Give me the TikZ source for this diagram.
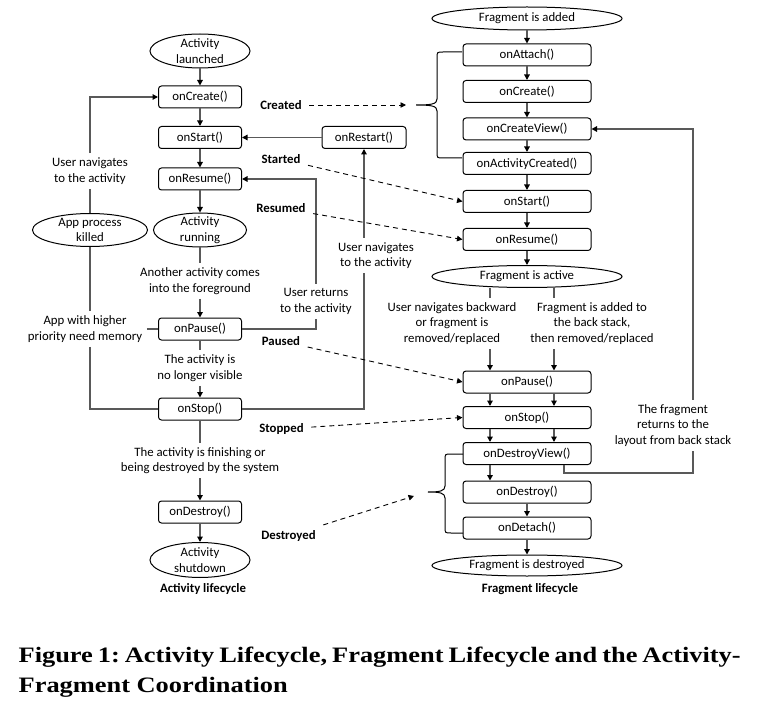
\documentclass[tikz,border=0pt]{standalone}
\usepackage{fontspec}
\setmainfont{Carlito}
\newfontfamily\capfont[FakeStretch=1.2]{Liberation Serif}
\usetikzlibrary{shapes.geometric,arrows.meta}

\begin{document}
\begin{tikzpicture}[x=1pt,y=-1pt,line width=1.3pt,draw=black!65,
  >={Triangle[length=5.5pt,width=5.5pt,color=black]},
  every node/.style={font=\fontsize{12.8}{15.6}\selectfont},
  cbox/.style={draw=black,line width=1pt,rectangle,rounded corners=3pt,minimum width=83pt,minimum height=22pt,inner sep=0pt},
  fbox/.style={cbox,minimum width=128pt},
  coval/.style={draw=black,line width=1pt,ellipse,inner sep=0pt},
  ctext/.style={align=center,inner sep=4pt},
  cstate/.style={font=\fontsize{12.8}{15.6}\selectfont\bfseries,inner sep=7pt},
  dsh/.style={draw=black,line width=0.9pt,dash pattern=on 5pt off 4pt,->}]
 \useasboundingbox (0,0) rectangle (766,714);

 % activity lifecycle
 \node[coval,minimum width=100pt,minimum height=34pt,label={[align=center]center:Activity\\launched}] (AL) at (200,51) {};
 \node[cbox] (AC) at (200,97) {onCreate()};
 \node[cbox] (AS) at (200,137.5) {onStart()};
 \node[cbox] (AR) at (200,179) {onResume()};
 \node[coval,minimum width=93pt,minimum height=34pt,label={[align=center]center:Activity\\running}] (ARun) at (200,230) {};
 \node[ctext] (T5) at (200,281) {Another activity comes\\into the foreground};
 \node[cbox] (AP) at (200,329) {onPause()};
 \node[ctext] (T6) at (200,368) {The activity is\\no longer visible};
 \node[cbox] (ASt) at (200,409) {onStop()};
 \node[ctext] (T7) at (200,460.5) {The activity is finishing or\\being destroyed by the system};
 \node[cbox] (AD) at (200,512) {onDestroy()};
 \node[coval,minimum width=100pt,minimum height=35pt,label={[align=center]center:Activity\\shutdown}] (ASh) at (200,560) {};
 \node[cstate,inner sep=2pt] (ALc) at (203,589) {Activity lifecycle};

 \node[cbox,minimum width=84pt] (ARs) at (364,137.5) {onRestart()};
 \node[coval,minimum width=115pt,minimum height=33pt,label={[align=center]center:App process\\killed}] (APK) at (90,230) {};
 \node[ctext] (T1) at (90,171) {User navigates\\to the activity};
 \node[ctext] (T2) at (85,329) {App with higher\\priority need memory};
 \node[ctext] (T3) at (376,255.5) {User navigates\\to the activity};
 \node[ctext] (T4) at (316,301.5) {User returns\\to the activity};

 \draw[->] (AL) -- (AC);
 \draw[->] (AC) -- (AS);
 \draw[->] (AS) -- (AR);
 \draw[->] (AR) -- (ARun);
 \draw (ARun) -- (T5);
 \draw[->] (T5) -- (AP);
 \draw (AP) -- (T6);
 \draw[->] (T6) -- (ASt);
 \draw (ASt) -- (T7);
 \draw[->] (T7) -- (AD);
 \draw[->] (AD) -- (ASh);

 \draw (APK) -- (T1);
 \draw[->] (T1) |- (AC);
 \draw (APK) -- (APK |- T2.north);
 \draw (T2) -- (AP);
 \draw (APK |- T2.south) |- (ASt);

 \draw[->] (ARs) -- (AS);
 \draw[->] (ARs |- T3.north) -- (ARs);
 \draw (ASt) -| (ARs |- T3.south);
 \draw[->] (T4) |- (AR);
 \draw (AP) -| (T4);

 % fragment lifecycle
 \node[coval,minimum width=190pt,minimum height=23pt] (FAd) at (527,18.5) {Fragment is added};
 \node[fbox] (FAt) at (527,55) {onAttach()};
 \node[fbox] (FC) at (527,91.5) {onCreate()};
 \node[fbox] (FCV) at (527,129) {onCreateView()};
 \node[fbox] (FAC) at (527,163.5) {onActivityCreated()};
 \node[fbox] (FS) at (527,201.5) {onStart()};
 \node[fbox] (FR) at (527,239.5) {onResume()};
 \node[coval,minimum width=190pt,minimum height=22pt] (FAct) at (527,276.5) {Fragment is active};
 \node[ctext] (T8) at (452,323.5) {User navigates backward\\or fragment is\\removed/replaced};
 \node[ctext] (T9) at (592,323.5) {Fragment is added to\\the back stack,\\then removed/replaced};
 \node[fbox] (FP) at (527,382) {onPause()};
 \node[fbox] (FSo) at (527,417.5) {onStop()};
 \node[fbox] (FDV) at (527,453.5) {onDestroyView()};
 \node[fbox] (FD) at (527,492) {onDestroy()};
 \node[fbox] (FDt) at (527,528) {onDetach()};
 \node[coval,minimum width=190pt,minimum height=21pt] (FDs) at (527,565.5) {Fragment is destroyed};
 \node[cstate,inner sep=2pt] (FLc) at (530,589) {Fragment lifecycle};
 \node[ctext] (T10) at (673,425.5) {The fragment\\returns to the\\layout from back stack};

 \coordinate (P1) at (490,0);
 \coordinate (P2) at (554,0);
 \coordinate (P3) at (564,473);
 \coordinate (P4) at (693,0);

 \draw[->] (FAd) -- (FAt);
 \draw[->] (FAt) -- (FC);
 \draw[->] (FC) -- (FCV);
 \draw[->] (FCV) -- (FAC);
 \draw[->] (FAC) -- (FS);
 \draw[->] (FS) -- (FR);
 \draw[->] (FR) -- (FAct);
 \draw (P1 |- FAct.south) -- (P1 |- T8.north);
 \draw (P2 |- FAct.south) -- (P2 |- T9.north);
 \draw[->] (P1 |- T8.south) -- (P1 |- FP.north);
 \draw[->] (P2 |- T9.south) -- (P2 |- FP.north);
 \draw[->] (P1 |- FP.south) -- (P1 |- FSo.north);
 \draw[->] (P2 |- FP.south) -- (P2 |- FSo.north);
 \draw[->] (P1 |- FSo.south) -- (P1 |- FDV.north);
 \draw[->] (P2 |- FSo.south) -- (P2 |- FDV.north);
 \draw[->] (P1 |- FDV.south) -- (P1 |- FD.north);
 \draw[->] (FD) -- (FDt);
 \draw[->] (FDt) -- (FDs);
 \draw (P3 |- FDV.south) -- (P3) -| (P4 |- T10.south);
 \draw[->] (P4 |- T10.north) |- (FCV);

 % braces
 \coordinate (B1) at (416,105);
 \coordinate (B1a) at (406,105);
 \coordinate (B2) at (428,492);
 \coordinate (B2a) at (414,496);
 \draw[draw=black,line width=1pt] (462,52) -- (443,52) .. controls (437,52) .. (437,58) -- (437,99)
   .. controls (437,104) and (432,105) .. (B1) .. controls (432,105) and (437,106) .. (437,111)
   -- (437,152) .. controls (437,158) .. (443,158) -- (462,158);
 \draw[draw=black,line width=1pt] (463,454) -- (451,454) .. controls (445,454) .. (445,460) -- (445,486)
   .. controls (445,491) and (440,492) .. (B2) .. controls (440,492) and (445,493) .. (445,498)
   -- (445,527) .. controls (445,533) .. (451,533) -- (463,533);

 % coordination
 \node[cstate] (LCr) at (281,105) {Created};
 \node[cstate] (LSt) at (281,159) {Started};
 \node[cstate] (LRe) at (281,208) {Resumed};
 \node[cstate] (LPa) at (281,341) {Paused};
 \node[cstate] (LSo) at (281.5,429) {Stopped};
 \node[cstate] (LDe) at (288.5,536) {Destroyed};
 \draw[dsh] (LCr) -- (B1a);
 \draw[dsh] (LSt) -- (FS.west);
 \draw[dsh] (LRe) -- (FR.west);
 \draw[dsh] (LPa) -- (FP.west);
 \draw[dsh] (LSo) -- (FSo.west);
 \draw[dsh] (LDe) -- (B2a);

 \node[anchor=base west,inner sep=0pt,font=\capfont\bfseries\fontsize{22}{26}\selectfont\frenchspacing] (Cap1) at (18,662)
   {\makebox[722pt][s]{Figure 1: Activity Lifecycle, Fragment Lifecycle and the Activity-}};
 \node[anchor=base west,inner sep=0pt,font=\capfont\bfseries\fontsize{22}{26}\selectfont] (Cap2) at (18,692)
   {Fragment Coordination};
\end{tikzpicture}
\end{document}
